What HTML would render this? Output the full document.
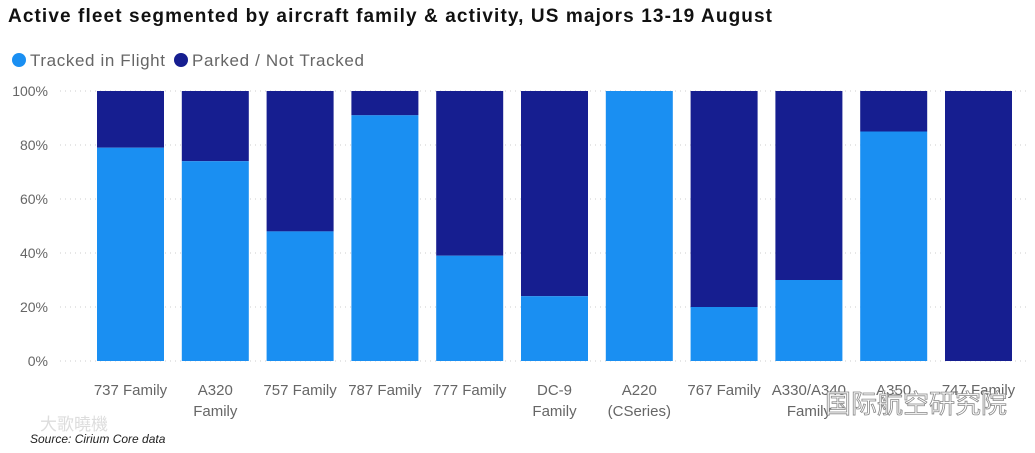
<!DOCTYPE html>
<html><head><meta charset="utf-8"><style>
body{margin:0;background:#fff;width:1035px;height:448px;overflow:hidden;font-family:"Liberation Sans","Noto Sans CJK SC",sans-serif}
svg text{font-family:"Liberation Sans","Noto Sans CJK SC",sans-serif}
</style></head><body>
<svg id="c" width="1035" height="448">
<text x="8" y="22" font-size="19" font-weight="bold" fill="#111" textLength="764" lengthAdjust="spacing">Active fleet segmented by aircraft family &amp; activity, US majors 13-19 August</text>
<g>
<circle cx="19" cy="60" r="7" fill="#1a8ff2"/>
<text x="30" y="66" font-size="17" fill="#666" textLength="135" lengthAdjust="spacing">Tracked in Flight</text>
<circle cx="181" cy="60" r="7" fill="#161e90"/>
<text x="192" y="66" font-size="17" fill="#666" textLength="172" lengthAdjust="spacing">Parked / Not Tracked</text>
</g>
<g id="grid"></g><g id="bars"></g><g id="xl"></g>
<text x="30" y="443" font-size="12" font-style="italic" fill="#222">Source: Cirium Core data</text>
<text x="40" y="430" font-size="17" fill="#ddd">大歌曉機</text>
<text x="825" y="413" font-size="26" fill="#fff" stroke="#888" stroke-width="0.8">国际航空研究院</text>
</svg>
<script>
const categories=[["737 Family"],["A320","Family"],["757 Family"],["787 Family"],["777 Family"],["DC-9","Family"],["A220","(CSeries)"],["767 Family"],["A330/A340","Family"],["A350"],["747 Family"]];
const tracked=[79,74,48,91,39,24,100,20,30,85,0];
const ticks=[0,20,40,60,80,100];
const ns="http://www.w3.org/2000/svg";
const y0=361,y1=91,x0=97,step=84.8,bw=67;
const y=v=>y0-(v/100)*(y0-y1);
const x=i=>x0+i*step;
function mk(t,a,p){const e=document.createElementNS(ns,t);for(const k in a)e.setAttribute(k,a[k]);p.appendChild(e);return e;}
const G=document.getElementById('grid'),B=document.getElementById('bars'),X=document.getElementById('xl');
ticks.forEach(t=>{
 const l=mk('line',{x1:60,x2:1030,y1:y(t),y2:y(t),stroke:'#ccc','stroke-dasharray':'1 4'},G);
 
 
 const tx=mk('text',{x:48,y:y(t)+5,'font-size':14,fill:'#666','text-anchor':'end'},G);
 tx.textContent=t+'%';
 
 
});
categories.forEach((c,i)=>{
 const v=tracked[i];
 const d=mk('rect',{x:x(i),y:y(100),width:bw,height:y(v)-y(100),fill:'#161e90'},B);
 
 
 const l=mk('rect',{x:x(i),y:y(v),width:bw,height:y0-y(v),fill:'#1a8ff2'},B);
 
 
 c.forEach((s,j)=>{
  const t=mk('text',{x:x(i)+bw/2,y:395+j*21,'font-size':15,fill:'#666','text-anchor':'middle'},X);
  t.textContent=s;
  
  
 });
});
</script>
</body></html>
